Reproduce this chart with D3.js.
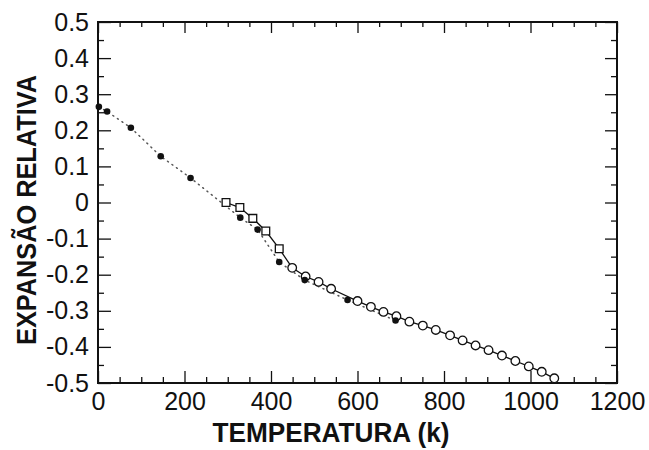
<!DOCTYPE html>
<html>
<head>
<meta charset="utf-8">
<script src="https://cdn.jsdelivr.net/npm/d3@7"></script>
<style>
  html, body { margin: 0; padding: 0; background: #fff; }
  svg { display: block; }
  text { font-family: "Liberation Sans", Arial, Helvetica, sans-serif; fill: #111; }
</style>
</head>
<body>
<svg id="chart" width="649" height="450"></svg>
<script>
// ---- data ----
// filled dots, dotted line
const filledT = [2, 21, 76, 145, 214, 329, 369, 419, 478, 577, 688];
const filledV = [0.265, 0.252, 0.207, 0.128, 0.068, -0.042, -0.075, -0.165, -0.215, -0.270, -0.327];
// open markers, solid line
const openT = [296, 328, 358, 388, 419, 449, 480, 510, 539, 600, 631, 660, 690, 720, 751, 781, 814, 843, 873, 903, 934, 965, 996, 1026, 1055];
const openV = [0.000, -0.014, -0.044, -0.079, -0.128, -0.181, -0.205, -0.220, -0.239, -0.273, -0.289, -0.303, -0.315, -0.330, -0.341, -0.353, -0.368, -0.382, -0.396, -0.409, -0.424, -0.439, -0.454, -0.469, -0.487];
const openShape = ["s","s","s","s","s","c","c","c","c","c","c","c","c","c","c","c","c","c","c","c","c","c","c","c","c"];
// ticks
const xTicks = [0, 200, 400, 600, 800, 1000, 1200];
const xTickLabels = ["0", "200", "400", "600", "800", "1000", "1200"];
const yTicks = [0.5, 0.4, 0.3, 0.2, 0.1, 0, -0.1, -0.2, -0.3, -0.4, -0.5];
const yTickLabels = ["0.5", "0.4", "0.3", "0.2", "0.1", "0", "-0.1", "-0.2", "-0.3", "-0.4", "-0.5"];
const xMinor = d3.range(50, 1200, 50).filter(v => v % 200 !== 0);
const yMinor = [0.45, 0.35, 0.25, 0.15, 0.05, -0.05, -0.15, -0.25, -0.35, -0.45];
const xTitle = "TEMPERATURA (k)";
const yTitle = "EXPANSÃO RELATIVA";

// ---- layout ----
const L = 98, R = 617, T = 22, B = 383;
const svg = d3.select("#chart");
const x = d3.scaleLinear().domain([0, 1200]).range([L, R]);
const y = d3.scaleLinear().domain([-0.5, 0.5]).range([B, T]);

function styleAxis(g) {
  g.select(".domain").remove();
  g.selectAll(".tick line").attr("stroke", "#111").attr("stroke-width", 1.3);
}
function styleText(g) {
  g.selectAll("text").attr("font-size", 25).attr("fill", "#111")
    .attr("font-family", "Liberation Sans, Arial, sans-serif");
}
// bottom
svg.append("g").attr("transform", `translate(0,${B})`)
  .call(d3.axisBottom(x).tickValues(xTicks).tickSize(-12).tickFormat((d, i) => xTickLabels[i]).tickPadding(9))
  .call(styleAxis).call(styleText);
svg.append("g").attr("transform", `translate(0,${B})`)
  .call(d3.axisBottom(x).tickValues(xMinor).tickSize(-6).tickFormat(""))
  .call(styleAxis);
// top
svg.append("g").attr("transform", `translate(0,${T})`)
  .call(d3.axisTop(x).tickValues(xTicks).tickSize(-11).tickFormat(""))
  .call(styleAxis);
svg.append("g").attr("transform", `translate(0,${T})`)
  .call(d3.axisTop(x).tickValues(xMinor).tickSize(-5).tickFormat(""))
  .call(styleAxis);
// left
svg.append("g").attr("transform", `translate(${L},0)`)
  .call(d3.axisLeft(y).tickValues(yTicks).tickSize(-13).tickFormat((d, i) => yTickLabels[i]).tickPadding(9))
  .call(styleAxis).call(styleText);
svg.append("g").attr("transform", `translate(${L},0)`)
  .call(d3.axisLeft(y).tickValues(yMinor).tickSize(-6).tickFormat(""))
  .call(styleAxis);
// right
svg.append("g").attr("transform", `translate(${R},0)`)
  .call(d3.axisRight(y).tickValues(yTicks).tickSize(-12).tickFormat(""))
  .call(styleAxis);
svg.append("g").attr("transform", `translate(${R},0)`)
  .call(d3.axisRight(y).tickValues(yMinor).tickSize(-6).tickFormat(""))
  .call(styleAxis);

// frame
svg.append("rect").attr("x", L).attr("y", T).attr("width", R - L).attr("height", B - T)
  .attr("fill", "none").attr("stroke", "#111").attr("stroke-width", 2);

// ---- series ----
const filled = filledT.map((t, i) => ({ t, v: filledV[i] }));
const open = openT.map((t, i) => ({ t, v: openV[i], s: openShape[i] }));
const line = d3.line().x(d => x(d.t)).y(d => y(d.v));

svg.append("path").datum(filled).attr("d", line)
  .attr("fill", "none").attr("stroke", "#555").attr("stroke-width", 1.5)
  .attr("stroke-dasharray", "1,4.5").attr("stroke-linecap", "round");
svg.append("path").datum(open).attr("d", line)
  .attr("fill", "none").attr("stroke", "#111").attr("stroke-width", 1.3);

svg.append("g").selectAll("path").data(open).join("path")
  .attr("transform", d => `translate(${x(d.t)},${y(d.v)})`)
  .attr("d", d => d.s === "s" ? d3.symbol(d3.symbolSquare, 60)() : d3.symbol(d3.symbolCircle, 58)())
  .attr("fill", "#fff").attr("stroke", "#111").attr("stroke-width", 1.3);

svg.append("g").selectAll("circle").data(filled).join("circle")
  .attr("cx", d => x(d.t)).attr("cy", d => y(d.v)).attr("r", 3.3)
  .attr("fill", "#111");

// ---- titles ----
svg.append("text").attr("x", 331).attr("y", 442).attr("text-anchor", "middle")
  .attr("font-size", 27).attr("font-weight", "bold")
  .attr("textLength", 237).attr("lengthAdjust", "spacingAndGlyphs")
  .text(xTitle);
svg.append("text").attr("transform", "translate(36,210) rotate(-90)").attr("text-anchor", "middle")
  .attr("font-size", 27).attr("font-weight", "bold")
  .attr("textLength", 270).attr("lengthAdjust", "spacingAndGlyphs")
  .text(yTitle);
</script>
</body>
</html>
